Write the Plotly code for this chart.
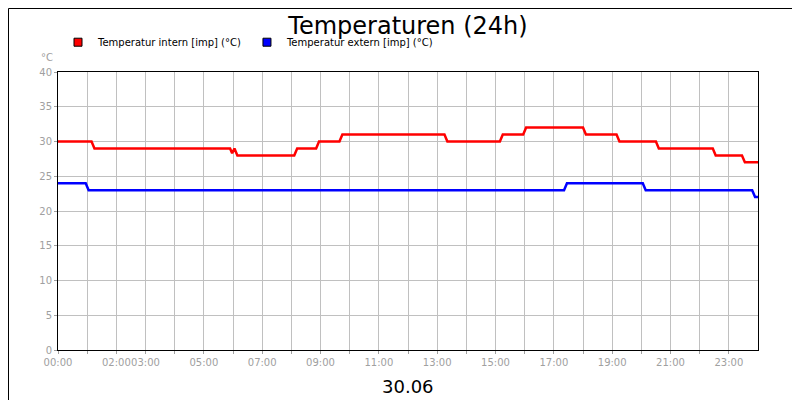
import plotly.graph_objects as go

hours_int = [0, 1.15, 1.25, 5.9, 5.97, 6.05, 6.15, 8.1, 8.2, 8.85, 8.95, 9.65, 9.75, 13.25, 13.35, 15.15, 15.25, 15.95, 16.05, 18.0, 18.1, 19.15, 19.25, 20.5, 20.6, 22.45, 22.55, 23.45, 23.55, 24]
temp_int = [30, 30, 29, 29, 28.3, 29, 28, 28, 29, 29, 30, 30, 31, 31, 30, 30, 31, 31, 32, 32, 31, 31, 30, 30, 29, 29, 28, 28, 27, 27]
hours_ext = [0, 0.95, 1.05, 17.35, 17.45, 20.05, 20.15, 23.8, 23.9, 24]
temp_ext = [24, 24, 23, 23, 24, 24, 23, 23, 22, 22]
tick_hours = list(range(0, 24))
labels = {0: "00:00", 2: "02:00", 3: "03:00", 5: "05:00", 7: "07:00", 9: "09:00", 11: "11:00",
          13: "13:00", 15: "15:00", 17: "17:00", 19: "19:00", 21: "21:00", 23: "23:00"}
tick_labels = [labels.get(h, "") for h in tick_hours]

names = ["Temperatur intern [imp] (°C)", "Temperatur extern [imp] (°C)"]
colors = ["#ff0000", "#0000ff"]

fig = go.Figure()
fig.add_trace(go.Scatter(x=hours_int, y=temp_int, mode="lines", line=dict(color=colors[0], width=2.5),
                         showlegend=False))
fig.add_trace(go.Scatter(x=hours_ext, y=temp_ext, mode="lines", line=dict(color=colors[1], width=2.5),
                         showlegend=False))
for n, c in zip(names, colors):
    fig.add_trace(go.Scatter(x=[None], y=[None], mode="markers", name=n,
                             marker=dict(symbol="square", size=8, color=c, line=dict(color="black", width=1))))

W, H = 700, 278
fig.update_layout(
    width=800, height=400, margin=dict(l=50, r=50, t=64, b=58, autoexpand=False),
    paper_bgcolor="white", plot_bgcolor="white",
    font=dict(family="DejaVu Sans", size=10, color="black"),
    title=dict(text="Temperaturen (24h)", x=0.5, xanchor="center", y=0.955, yanchor="middle",
               font=dict(size=24, family="DejaVu Sans")),
    legend=dict(orientation="h", x=0.0, y=1.055, xanchor="left", yanchor="bottom",
                font=dict(size=10), itemwidth=30, bgcolor="rgba(0,0,0,0)", tracegroupgap=0),
    xaxis=dict(range=[0, 24], tickvals=tick_hours, ticktext=tick_labels, tickangle=0,
               showgrid=True, gridcolor="#c0c0c0",
               tickfont=dict(color="#a0a0a0", size=10), showline=True, linecolor="black", mirror=True,
               ticks="outside", ticklen=3, tickcolor="#a0a0a0", zeroline=False),
    yaxis=dict(range=[0, 40], dtick=5, showgrid=True, gridcolor="#c0c0c0",
               tickfont=dict(color="#a0a0a0", size=10), showline=True, linecolor="black", mirror=True,
               ticks="outside", ticklen=3, tickcolor="#a0a0a0", zeroline=False),
    shapes=[dict(type="rect", xref="paper", yref="paper", x0=-49.5 / W, x1=1 + 49.5 / W,
                 y0=-57.5 / H, y1=1 + 63.5 / H, line=dict(color="black", width=1))],
    annotations=[
        dict(text="°C", xref="paper", yref="paper", x=-0.005, y=1.025, xanchor="right", yanchor="bottom",
             showarrow=False, font=dict(size=10, color="#a0a0a0")),
        dict(text="30.06", xref="paper", yref="paper", x=0.5, y=-0.085, xanchor="center", yanchor="top",
             showarrow=False, font=dict(size=18, color="black")),
    ],
)
fig.write_html("out.html")
